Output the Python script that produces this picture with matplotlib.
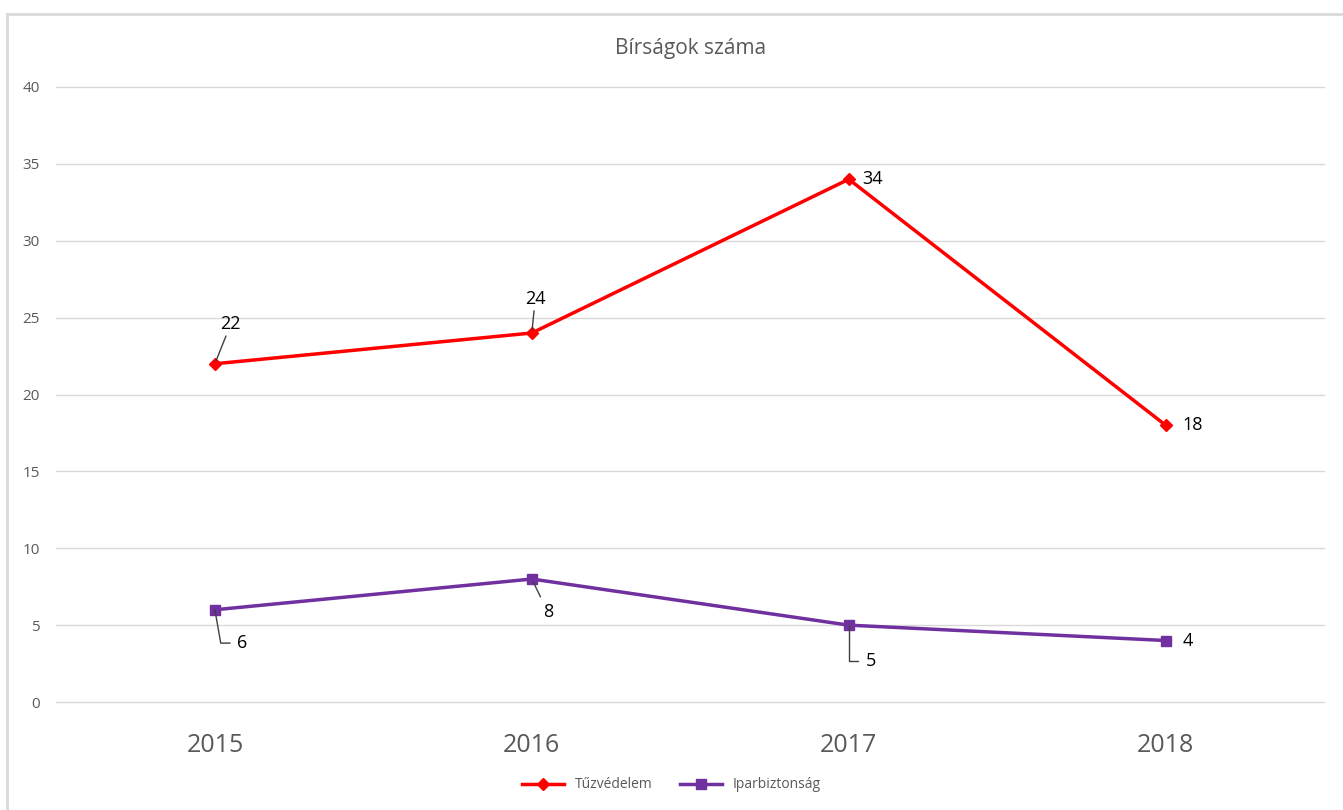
import matplotlib.pyplot as plt
from matplotlib.lines import Line2D

plt.rcParams['font.family'] = ['Open Sans', 'DejaVu Sans']

years = ['2015', '2016', '2017', '2018']
tuzvedelem = [22, 24, 34, 18]
iparbiztonsag = [6, 8, 5, 4]

fig = plt.figure(figsize=(13.43, 8.10), dpi=100, facecolor='white')
ax = fig.add_axes([0.042, 0.1333, 0.944, 0.7593])

# chart border (top and left visible)
fig.add_artist(Line2D([7/1343, 1], [1-14/810, 1-14/810], color='#D9D9D9', lw=2))
fig.add_artist(Line2D([7/1343, 7/1343], [0, 1-14/810], color='#D9D9D9', lw=2))

x = list(range(len(years)))
ax.plot(x, tuzvedelem, color='#FF0000', lw=2.5, marker='D', ms=6, label='Tűzvédelem', zorder=3)
ax.plot(x, iparbiztonsag, color='#7030A0', lw=2.5, marker='s', ms=7, label='Iparbiztonság', zorder=3)

ax.set_xlim(-0.5, 3.5)
ax.set_ylim(0, 40)
ax.set_yticks(range(0, 41, 5))
ax.set_xticks(x)
ax.set_xticklabels(years)
ax.grid(axis='y', color='#D9D9D9', lw=1)
for gl in ax.get_ygridlines():
    gl.set_clip_on(False)
ax.set_axisbelow(True)
for s in ax.spines.values():
    s.set_visible(False)
ax.tick_params(axis='y', length=0, labelsize=11, labelcolor='#595959', pad=12)
ax.tick_params(axis='x', length=0, labelsize=18, labelcolor='#595959', pad=22)

ax.set_title('Bírságok száma', fontsize=15, color='#595959', pad=24)

lab = dict(fontsize=13, color='black', va='center', ha='left')
line = dict(arrowstyle='-', color='#404040', lw=1, shrinkA=0, shrinkB=2)

# red labels
ax.annotate('22', xy=(0, 22), xytext=(4, 22), textcoords='offset points',
            ha='left', va='bottom', fontsize=13, arrowprops=line)
ax.annotate('24', xy=(1, 24), xytext=(-5, 18), textcoords='offset points',
            ha='left', va='bottom', fontsize=13, arrowprops=line)
ax.annotate('34', xy=(2, 34), xytext=(10, 0), textcoords='offset points', **lab)
ax.annotate('18', xy=(3, 18), xytext=(12, 0), textcoords='offset points', **lab)

# purple labels
ax.annotate('6', xy=(0, 6), xytext=(16, -24), textcoords='offset points', **lab,
            arrowprops=dict(arrowstyle='-', color='#404040', lw=1, shrinkA=3, shrinkB=0,
                            connectionstyle='angle,angleA=0,angleB=100'))
ax.annotate('8', xy=(1, 8), xytext=(8, -24), textcoords='offset points', **lab,
            arrowprops=dict(arrowstyle='-', color='#404040', lw=1, shrinkA=3, shrinkB=2))
ax.annotate('5', xy=(2, 5), xytext=(12, -26), textcoords='offset points', **lab,
            arrowprops=dict(arrowstyle='-', color='#404040', lw=1, shrinkA=3, shrinkB=0,
                            connectionstyle='angle,angleA=0,angleB=90'))
ax.annotate('4', xy=(3, 4), xytext=(12, 0), textcoords='offset points', **lab)

leg = fig.legend(loc='center', bbox_to_anchor=(0.5, 1-785/810), ncol=2, frameon=False,
                 fontsize=10, handlelength=3, columnspacing=2)
for t in leg.get_texts():
    t.set_color('#595959')

plt.savefig('out.png', dpi=100, facecolor='white')
